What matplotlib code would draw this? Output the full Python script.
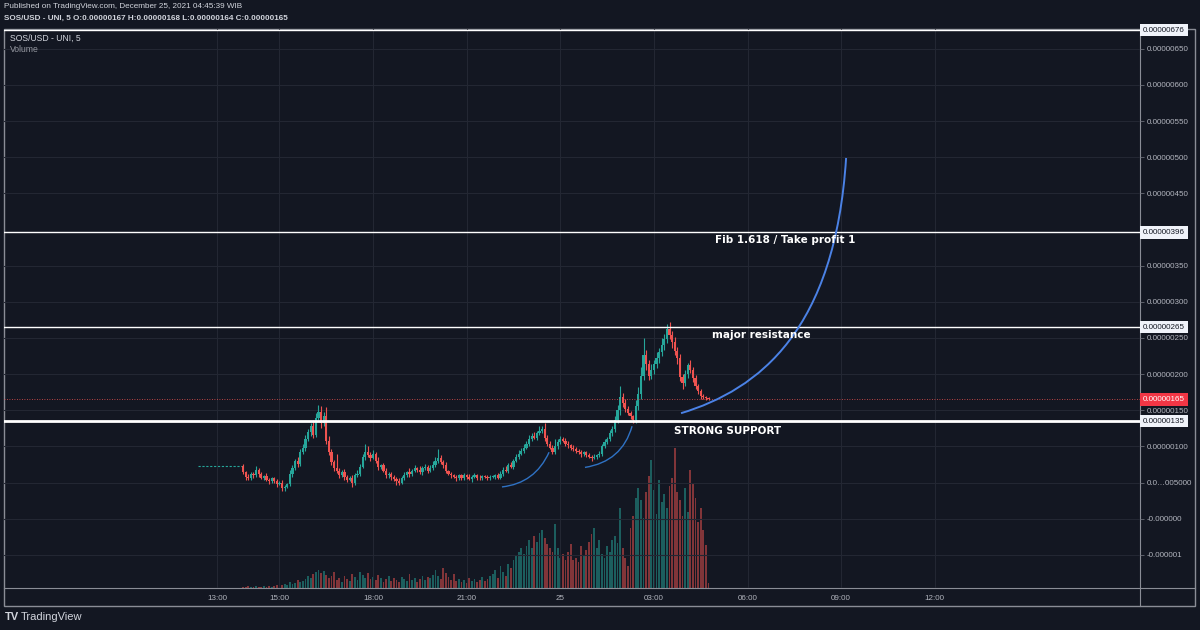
import matplotlib.pyplot as plt
import numpy as np
import matplotlib.transforms as mtransforms
from matplotlib.path import Path
from matplotlib.patches import PathPatch, Rectangle
from matplotlib.lines import Line2D

plt.rcParams['font.family'] = ['Liberation Sans', 'DejaVu Sans']

# prices in units of 1e-8 USD, 5 minute bars starting Dec 24 13:50
first_open = 73
closes = [
    64, 58, 56, 62, 60, 68, 62, 57, 59, 54, 52, 56,
    52, 48, 50, 42, 44, 48, 62, 70, 80, 76, 92, 98,
    110, 120, 128, 116, 140, 148, 132, 142, 108, 92, 78, 70,
    66, 60, 64, 58, 54, 56, 50, 60, 62, 72, 85, 92,
    88, 84, 90, 80, 72, 74, 66, 60, 62, 58, 55, 52,
    50, 56, 60, 64, 62, 66, 70, 68, 64, 70, 72, 66,
    70, 74, 80, 84, 78, 74, 66, 62, 60, 58, 56, 60,
    56, 60, 58, 55, 58, 60, 57, 56, 59, 58, 56, 58,
    58, 60, 57, 62, 68, 66, 74, 72, 80, 86, 90, 94,
    98, 104, 110, 115, 112, 118, 122, 124, 112, 104, 98, 92,
    100, 106, 110, 108, 104, 102, 98, 96, 94, 92, 90, 92,
    88, 86, 84, 86, 88, 90, 100, 106, 110, 118, 124, 136,
    150, 168, 160, 152, 146, 142, 136, 156, 172, 198, 226, 214,
    198, 206, 214, 222, 230, 240, 248, 262, 254, 244, 232, 222,
    196, 188, 200, 212, 206, 194, 184, 176, 170, 168, 167, 165,
]
wick_up = [
    3, 2, 4, 3, 2, 5, 2, 3, 2, 4, 3, 2,
    2, 3, 2, 4, 3, 2, 5, 4, 3, 6, 4, 5,
    6, 4, 5, 8, 6, 10, 8, 6, 12, 6, 4, 3,
    20, 4, 3, 5, 2, 3, 4, 3, 6, 4, 5, 12,
    8, 4, 5, 3, 6, 2, 3, 4, 2, 3, 2, 3,
    4, 3, 5, 2, 6, 3, 4, 2, 5, 3, 4, 2,
    4, 6, 5, 12, 4, 3, 4, 2, 3, 2, 3, 2,
    2, 3, 2, 4, 2, 3, 2, 3, 2, 2, 3, 2,
    3, 2, 3, 4, 3, 5, 3, 4, 3, 4, 5, 4,
    5, 4, 6, 4, 5, 4, 6, 4, 8, 4, 3, 4,
    10, 4, 5, 3, 4, 3, 2, 4, 3, 2, 3, 2,
    2, 3, 2, 3, 2, 4, 3, 4, 3, 5, 4, 6,
    8, 16, 6, 5, 4, 3, 2, 8, 10, 12, 24, 8,
    6, 8, 6, 8, 6, 10, 8, 8, 10, 6, 8, 6,
    6, 4, 6, 4, 8, 4, 5, 3, 4, 2, 2, 1,
]
wick_dn = [
    2, 4, 3, 2, 3, 2, 4, 2, 3, 2, 4, 2,
    3, 4, 2, 4, 3, 2, 3, 4, 2, 4, 3, 2,
    4, 3, 5, 4, 3, 4, 6, 4, 5, 4, 3, 4,
    3, 4, 2, 5, 3, 2, 6, 3, 2, 3, 2, 4,
    3, 4, 2, 3, 4, 3, 2, 4, 3, 4, 3, 6,
    4, 2, 3, 2, 4, 3, 2, 3, 2, 3, 2, 3,
    2, 3, 2, 3, 2, 4, 3, 2, 3, 2, 4, 3,
    3, 2, 3, 2, 4, 2, 3, 2, 3, 2, 3, 2,
    2, 3, 2, 2, 3, 2, 3, 2, 3, 2, 3, 2,
    3, 2, 4, 3, 2, 3, 2, 3, 4, 3, 2, 3,
    3, 4, 3, 2, 3, 4, 3, 2, 3, 2, 4, 3,
    3, 2, 4, 2, 3, 2, 3, 2, 3, 2, 3, 4,
    4, 6, 5, 4, 3, 4, 3, 4, 5, 6, 6, 8,
    6, 5, 6, 5, 6, 5, 6, 5, 6, 8, 6, 8,
    6, 8, 5, 6, 4, 5, 4, 3, 4, 3, 3, 1,
]
volume = [
    1, 1, 2, 1, 1, 2, 1, 1, 2, 1, 2, 1,
    2, 3, 5, 3, 4, 3, 6, 4, 5, 8, 6, 7,
    9, 12, 10, 14, 16, 18, 15, 17, 13, 10, 12, 16,
    8, 10, 6, 12, 9, 7, 14, 11, 8, 16, 13, 10,
    15, 9, 11, 8, 13, 10, 6, 9, 12, 7, 10, 8,
    6, 11, 9, 7, 14, 8, 10, 6, 9, 12, 8, 11,
    10, 13, 18, 12, 9, 20, 15, 11, 8, 14, 7, 9,
    6, 8, 5, 10, 7, 9, 6, 8, 11, 7, 9, 12,
    14, 18, 10, 22, 16, 12, 24, 20, 28, 32, 36, 40,
    34, 42, 48, 40, 52, 46, 55, 58, 50, 44, 40, 36,
    64, 40, 30, 34, 28, 36, 44, 28, 30, 26, 42, 32,
    38, 46, 54, 60, 40, 48, 34, 30, 42, 36, 48, 52,
    45, 80, 40, 30, 22, 60, 72, 90, 100, 88, 70, 96,
    112, 128, 98, 74, 108, 86, 94, 80, 102, 110, 140, 96,
    88, 72, 100, 76, 118, 104, 90, 66, 80, 58, 43, 5,
]
start_hour = 13 + 50 / 60
bar_hours = 5 / 60

price_ticks = [650, 600, 550, 500, 450, 350, 300, 250, 200, 150, 100, 50, 0, -50]
price_labels = ['0.00000650', '0.00000600', '0.00000550', '0.00000500', '0.00000450',
                '0.00000350', '0.00000300', '0.00000250', '0.00000200', '0.00000150',
                '0.00000100', '0.0\u2026005000', '-0.000000', '-0.000001']
time_ticks = [13, 15, 18, 21, 24, 27, 30, 33, 36]
time_labels = ['13:00', '15:00', '18:00', '21:00', '25', '03:00', '06:00', '09:00', '12:00']

levels = [676, 396, 265, 135]
level_lw = [1.0, 1.0, 1.0, 2.0]
last_price = 165

notes = ['Fib 1.618 / Take profit 1', 'major resistance', 'STRONG SUPPORT']
note_x = [31.2, 30.44, 29.35]
note_y = [385, 254, 122]

# hand drawn arcs, (hour, price) control points
arc1 = [(22.13, 44), (23.19, 49), (23.64, 92)]
arc2 = [(24.79, 71), (25.98, 79), (26.30, 128)]
arc_big = [(27.87, 146), (30.40, 179), (32.81, 262), (33.16, 499)]

bg = '#131722'
up_col, dn_col = '#26a69a', '#ef5350'
text_col = '#b2b5be'
frame_col = '#8a8d96'

closes = np.array(closes, float)
opens = np.concatenate([[first_open], closes[:-1]])
highs = np.maximum(opens, closes) + np.array(wick_up)
lows = np.minimum(opens, closes) - np.array(wick_dn)
t = start_hour + np.arange(len(closes)) * bar_hours
rising = closes >= opens
cols = np.where(rising, up_col, dn_col)

fig = plt.figure(figsize=(12, 6.3), dpi=100, facecolor=bg)
ax = fig.add_axes([4 / 1200, 42 / 630, 1136 / 1200, 559 / 630])
axv = ax.twinx()
ax.set_zorder(2)
axv.set_zorder(1)
ax.patch.set_visible(False)
axv.patch.set_visible(False)

# volume
axv.bar(t, volume, width=0.06, color=cols, alpha=0.5, linewidth=0)
axv.set_ylim(0, 559)
axv.set_yticks([])
for s in axv.spines.values():
    s.set_visible(False)

# candles
ax.vlines(t, lows, highs, colors=cols, lw=0.8, zorder=3)
body = np.maximum(np.abs(closes - opens), 0.8)
ax.bar(t, body, bottom=np.minimum(opens, closes), width=0.07, color=cols, linewidth=0, zorder=4)
ax.hlines(first_open, 12.4, start_hour - 0.05, colors=up_col, linestyles=(0, (2, 1.5)), lw=0.8)

ax.set_xlim(6.17, 42.58)
ax.set_ylim(-95.8, 677.4)

# levels
blend = mtransforms.blended_transform_factory(ax.transAxes, ax.transData)
for lv, lw in zip(levels, level_lw):
    ax.axhline(lv, color='white', lw=lw, zorder=5)
    ax.text(1.0025, lv, '0.%08d' % lv, transform=blend, ha='left', va='center',
            fontsize=5.8, color='#131722', clip_on=False, zorder=6,
            bbox=dict(boxstyle='square,pad=0.35', fc='#f0f3fa', ec='none'))
ax.axhline(last_price, color=dn_col, lw=0.6, ls=(0, (1, 2)), zorder=5)
ax.text(1.0025, last_price, '0.%08d' % last_price, transform=blend, ha='left', va='center',
        fontsize=5.8, color='white', clip_on=False, zorder=7,
        bbox=dict(boxstyle='square,pad=0.35', fc='#f23645', ec='none'))

# arcs
for pts in (arc1, arc2):
    path = Path(pts, [Path.MOVETO, Path.CURVE3, Path.CURVE3])
    ax.add_patch(PathPatch(path, fill=False, ec='#2f72c4', lw=1.0, zorder=5))
path = Path(arc_big, [Path.MOVETO, Path.CURVE4, Path.CURVE4, Path.CURVE4])
ax.add_patch(PathPatch(path, fill=False, ec='#4b82e6', lw=1.4, zorder=5))

for s, x, y in zip(notes, note_x, note_y):
    ax.text(x, y, s, ha='center', va='center', fontsize=7.5, color='white',
            fontweight='bold', family='DejaVu Sans', zorder=6)

# axes cosmetics
ax.yaxis.tick_right()
ax.set_yticks(price_ticks)
ax.set_yticklabels(price_labels)
ax.set_xticks(time_ticks)
ax.set_xticklabels(time_labels)
ax.tick_params(axis='y', colors=text_col, labelsize=5.8, length=3, width=0.6, pad=2)
ax.tick_params(axis='y', color='#6a6d78')
ax.tick_params(axis='x', colors=text_col, labelsize=5.8, length=0, pad=5)
ax.grid(True, color='#232733', lw=0.8)
ax.set_axisbelow(True)
for s in ax.spines.values():
    s.set_visible(False)

# frame
fig.add_artist(Rectangle((4 / 1200, 24 / 630), 1191 / 1200, 577 / 630, transform=fig.transFigure,
                         fill=False, ec=frame_col, lw=1))
fig.add_artist(Line2D([1140 / 1200, 1140 / 1200], [24 / 630, 601 / 630], transform=fig.transFigure,
                      color=frame_col, lw=0.8))
fig.add_artist(Line2D([4 / 1200, 1195 / 1200], [42 / 630, 42 / 630], transform=fig.transFigure,
                      color=frame_col, lw=0.8))

# header texts
fig.text(4 / 1200, 1 - 7 / 630, 'Published on TradingView.com, December 25, 2021 04:45:39 WIB',
         fontsize=5.9, color='#d1d4dc', va='center', ha='left')
fig.text(4 / 1200, 1 - 18 / 630,
         'SOS/USD - UNI, 5 O:0.00000167 H:0.00000168 L:0.00000164 C:0.00000165',
         fontsize=5.9, color='#d1d4dc', va='center', ha='left', fontweight='bold')
fig.text(10 / 1200, 1 - 38 / 630, 'SOS/USD - UNI, 5', fontsize=6.2, color='#d1d4dc', va='center')
fig.text(10 / 1200, 1 - 50 / 630, 'Volume', fontsize=6.2, color='#9598a1', va='center')
fig.text(5 / 1200, 1 - 617 / 630, 'TV', fontsize=8, color='#d1d4dc', va='center', fontweight='bold')
fig.text(21 / 1200, 1 - 617 / 630, 'TradingView', fontsize=8, color='#d1d4dc', va='center')

fig.savefig('out.png', dpi=100, facecolor=bg)
